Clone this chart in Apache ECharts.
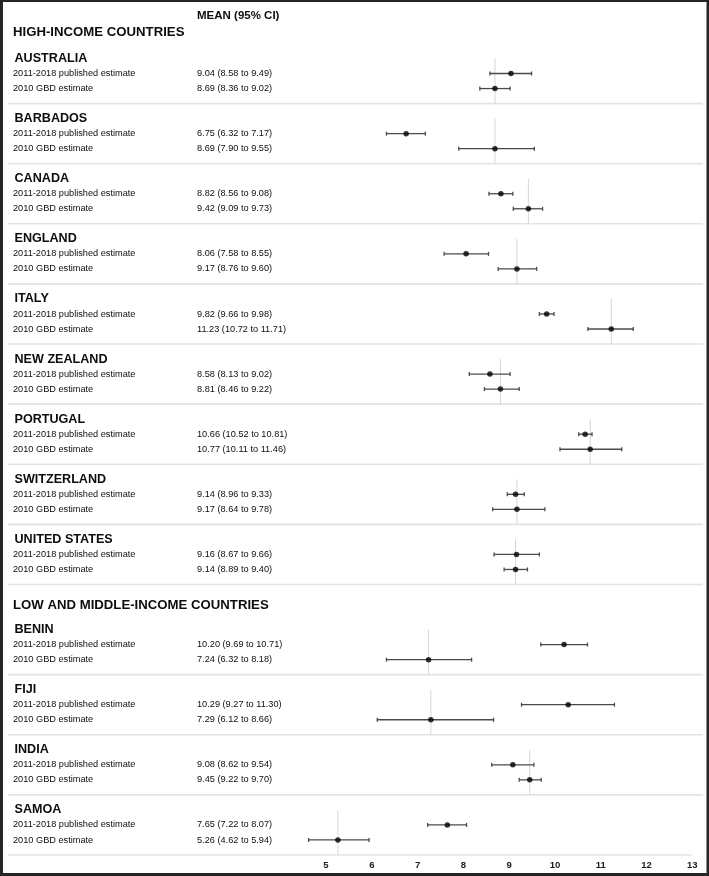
<!DOCTYPE html>
<html><head><meta charset="utf-8">
<script src="https://cdn.jsdelivr.net/npm/echarts@6/dist/echarts.min.js"></script>
<style>html,body{margin:0;padding:0;background:#fff}#c{width:709px;height:876px}</style>
</head><body><div id="c"></div>
<script>
// ---------- DATA ----------
const countries = ['AUSTRALIA','BARBADOS','CANADA','ENGLAND','ITALY','NEW ZEALAND','PORTUGAL','SWITZERLAND','UNITED STATES','BENIN','FIJI','INDIA','SAMOA'];
const incomeGroup = ['high','high','high','high','high','high','high','high','high','low','low','low','low'];
const groupTitles = {high: 'HIGH-INCOME COUNTRIES', low: 'LOW AND MIDDLE-INCOME COUNTRIES'};
const rowLabels = ['2011-2018 published estimate', '2010 GBD estimate'];
const columnTitle = 'MEAN (95% CI)';

const pubMean = [9.04, 6.75, 8.82, 8.06, 9.82, 8.58, 10.66, 9.14, 9.16, 10.20, 10.29, 9.08, 7.65];
const pubLow  = [8.58, 6.32, 8.56, 7.58, 9.66, 8.13, 10.52, 8.96, 8.67, 9.69, 9.27, 8.62, 7.22];
const pubHigh = [9.49, 7.17, 9.08, 8.55, 9.98, 9.02, 10.81, 9.33, 9.66, 10.71, 11.30, 9.54, 8.07];
const gbdMean = [8.69, 8.69, 9.42, 9.17, 11.23, 8.81, 10.77, 9.17, 9.14, 7.24, 7.29, 9.45, 5.26];
const gbdLow  = [8.36, 7.90, 9.09, 8.76, 10.72, 8.46, 10.11, 8.64, 8.89, 6.32, 6.12, 9.22, 4.62];
const gbdHigh = [9.02, 9.55, 9.73, 9.60, 11.71, 9.22, 11.46, 9.78, 9.40, 8.18, 8.66, 9.70, 5.94];
const xTicks = [5, 6, 7, 8, 9, 10, 11, 12, 13];

// ---------- LAYOUT (row slots) ----------
const headerRow = countries.map((c, i) => 4 * i + (incomeGroup[i] === 'low' ? 2 : 0));
const fmt = (m, l, h) => m.toFixed(2) + ' (' + l.toFixed(2) + ' to ' + h.toFixed(2) + ')';

const errData = [], ptData = [], refData = [], sepData = [];
countries.forEach((c, i) => {
  const k = headerRow[i];
  errData.push([pubLow[i], pubHigh[i], k + 1]);
  errData.push([gbdLow[i], gbdHigh[i], k + 2]);
  ptData.push([pubMean[i], k + 1]);
  ptData.push([gbdMean[i], k + 2]);
  refData.push([gbdMean[i], k, k + 3]);
  sepData.push([k + 3, i === countries.length - 1 ? 1 : 0]);
});

// text items: [x, row, text, styleKey]
const LABEL_X = 13, COUNTRY_X = 14.5, MEAN_X = 197;
const texts = [];
texts.push([MEAN_X, -2.87, columnTitle, 'col']);
let firstOfGroup = {};
countries.forEach((c, i) => {
  const g = incomeGroup[i];
  const k = headerRow[i];
  if (!firstOfGroup[g]) {
    firstOfGroup[g] = true;
    texts.push([LABEL_X, g === 'high' ? k - 1.72 : k - 1.6, groupTitles[g], 'group']);
  }
  texts.push([COUNTRY_X, k, c, 'country']);
  texts.push([LABEL_X, k + 1, rowLabels[0], 'row']);
  texts.push([LABEL_X, k + 2, rowLabels[1], 'row']);
  texts.push([MEAN_X, k + 1, fmt(pubMean[i], pubLow[i], pubHigh[i]), 'row']);
  texts.push([MEAN_X, k + 2, fmt(gbdMean[i], gbdLow[i], gbdHigh[i]), 'row']);
});
const textStyles = {
  col:     {fontSize: 11.5, fontWeight: 'bold'},
  group:   {fontSize: 13.2, fontWeight: 'bold'},
  country: {fontSize: 12.6, fontWeight: 'bold'},
  row:     {fontSize: 9.2, fontWeight: 'normal'}
};

const FONT = '"Liberation Sans", Arial, sans-serif';
const yCommon = {type: 'value', inverse: true, min: -3, max: 53, show: false};
const GRID_TOP = 13.41, GRID_BOTTOM = 21;

const chart = echarts.init(document.getElementById('c'), null, {renderer: 'canvas'});
chart.setOption({
  animation: false,
  backgroundColor: '#fff',
  grid: [
    {left: 280.2, right: 16.7, top: GRID_TOP, bottom: GRID_BOTTOM},
    {left: 0, right: 0, top: GRID_TOP, bottom: GRID_BOTTOM}
  ],
  xAxis: [
    {gridIndex: 0, type: 'value', min: 4, max: 13, interval: 1,
     axisLine: {show: false}, axisTick: {show: false}, splitLine: {show: false},
     axisLabel: {showMinLabel: false, margin: 5, fontSize: 9.5, fontWeight: 'bold', color: '#1a1a1a', fontFamily: FONT,
       formatter: v => xTicks.indexOf(v) >= 0 ? String(v) : ''}},
    {gridIndex: 1, type: 'value', min: 0, max: 709, show: false}
  ],
  yAxis: [
    Object.assign({gridIndex: 0}, yCommon),
    Object.assign({gridIndex: 1}, yCommon)
  ],
  graphic: [
    {type: 'rect', shape: {x: 0, y: 0, width: 3, height: 876}, style: {fill: '#262626'}, z: 100},
    {type: 'rect', shape: {x: 0, y: 0, width: 709, height: 2}, style: {fill: '#262626'}, z: 100},
    {type: 'rect', shape: {x: 706.5, y: 0, width: 2.5, height: 876}, style: {fill: '#262626'}, z: 100},
    {type: 'rect', shape: {x: 0, y: 873, width: 709, height: 3}, style: {fill: '#262626'}, z: 100}
  ],
  series: [
    { // separators
      type: 'custom', xAxisIndex: 1, yAxisIndex: 1, silent: true, z: 1,
      data: sepData,
      renderItem: (params, api) => {
        const y = api.coord([0, api.value(0)])[1];
        const x2 = api.value(1) ? 692 : 703;
        return {type: 'line', shape: {x1: 8, y1: y, x2: x2, y2: y},
          style: {stroke: '#e3e3e3', lineWidth: 1.6}};
      }
    },
    { // reference vertical lines
      type: 'custom', xAxisIndex: 0, yAxisIndex: 0, silent: true, z: 2,
      data: refData,
      renderItem: (params, api) => {
        const p1 = api.coord([api.value(0), api.value(1)]);
        const p2 = api.coord([api.value(0), api.value(2)]);
        return {type: 'line', shape: {x1: p1[0], y1: p1[1], x2: p2[0], y2: p2[1]},
          style: {stroke: '#d6d6d6', lineWidth: 1}};
      }
    },
    { // error bars
      type: 'custom', xAxisIndex: 0, yAxisIndex: 0, silent: true, z: 3,
      data: errData,
      renderItem: (params, api) => {
        const a = api.coord([api.value(0), api.value(2)]);
        const b = api.coord([api.value(1), api.value(2)]);
        const st = {stroke: '#4a4a4a', lineWidth: 1.3};
        const c = 2;
        return {type: 'group', children: [
          {type: 'line', shape: {x1: a[0], y1: a[1], x2: b[0], y2: b[1]}, style: st},
          {type: 'line', shape: {x1: a[0], y1: a[1] - c, x2: a[0], y2: a[1] + c}, style: st},
          {type: 'line', shape: {x1: b[0], y1: b[1] - c, x2: b[0], y2: b[1] + c}, style: st}
        ]};
      }
    },
    { // points
      type: 'scatter', xAxisIndex: 0, yAxisIndex: 0, silent: true, z: 4,
      symbol: 'circle', symbolSize: 5.5, itemStyle: {color: '#000'},
      data: ptData
    },
    { // texts
      type: 'custom', xAxisIndex: 1, yAxisIndex: 1, silent: true, z: 5,
      data: texts.map(t => [t[0], t[1]]),
      renderItem: (params, api) => {
        const t = texts[params.dataIndex];
        const p = api.coord([t[0], t[1]]);
        const s = textStyles[t[3]];
        return {type: 'text', x: p[0], y: p[1],
          style: {text: t[2], fontSize: s.fontSize, fontWeight: s.fontWeight, fontFamily: FONT,
            fill: '#0d0d0d', align: 'left', verticalAlign: 'middle'}};
      }
    }
  ]
});
</script>
</body></html>
